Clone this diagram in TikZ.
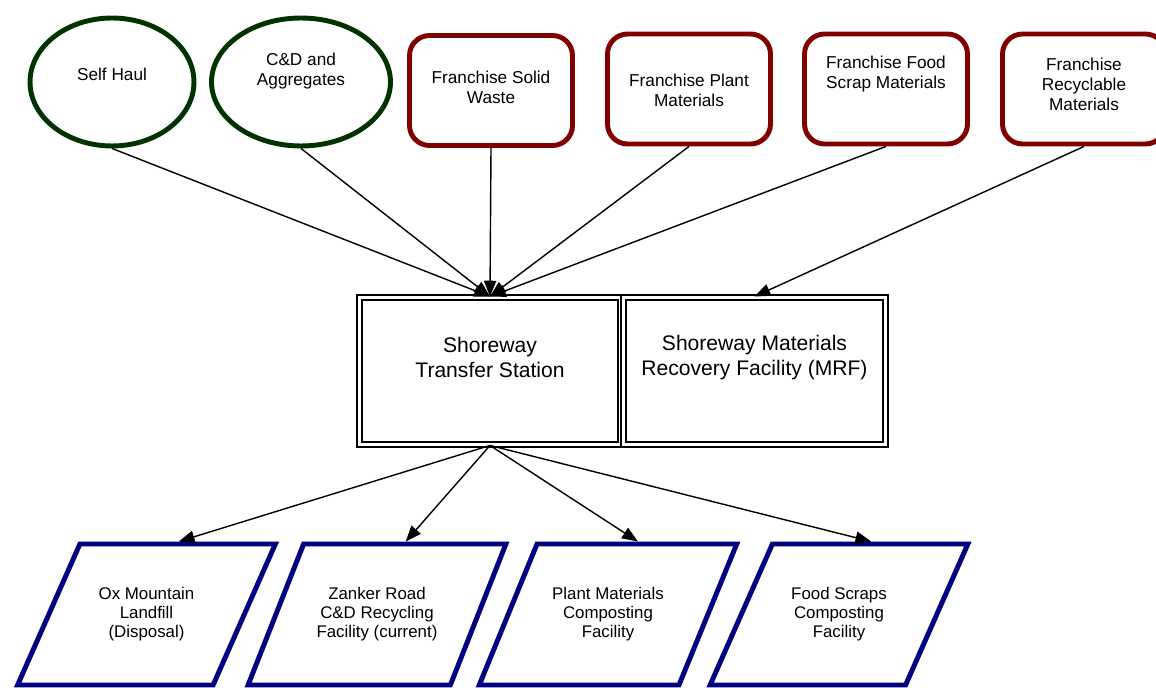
\documentclass[tikz,border=0pt]{standalone}
\usepackage{fontspec}
\setmainfont{Liberation Sans}
\usetikzlibrary{shapes.geometric,arrows.meta}
\definecolor{sourcegreen}{RGB}{0,51,0}
\definecolor{franchisered}{RGB}{128,0,0}
\definecolor{facilityblue}{RGB}{0,0,128}

\begin{document}
\begin{tikzpicture}[x=0.02cm, y=-0.02cm,
    source/.style={ellipse, draw=sourcegreen, line width=2.8pt, minimum height=2.56cm, inner sep=0pt},
    franchise/.style={rectangle, rounded corners=0.4cm, draw=franchisered, line width=2.8pt,
        minimum width=3.26cm, minimum height=2.2cm},
    station/.style={rectangle, draw, double, line width=1.1pt, double distance=1.7pt, minimum height=2.94cm},
    facility/.style={trapezium, trapezium left angle=52.5, trapezium right angle=127.5,
        trapezium stretches=true, draw=facilityblue, line width=2.8pt,
        minimum width=5.16cm, minimum height=2.82cm, align=center, font=\fontsize{9.6}{10.8}\selectfont},
    toptext/.style={align=center, font=\fontsize{9.8}{11.4}\selectfont},
    midtext/.style={align=center, font=\fontsize{12}{14.2}\selectfont},
    flow/.style={line width=0.8pt, -{Triangle[length=9pt,width=7pt]}}
]

    % page frame
    \useasboundingbox (0,0) rectangle (1156,688);

    % sources
    \node[source, minimum width=3.28cm] (selfhaul) at (112,82) {};
    \node[source, minimum width=3.58cm] (cnd) at (301,82) {};
    \node[toptext] (selfhaul-txt) at (112,74) {Self Haul};
    \node[toptext] (cnd-txt) at (301,71) {C\&D and\\Aggregates};

    % franchise streams
    \node[franchise] (solid) at (491,90.5) {};
    \node[franchise] (plant) at (689,89) {};
    \node[franchise] (food) at (886,89) {};
    \node[franchise] (recyc) at (1084,89) {};
    \node[toptext] (solid-txt) at (491,87) {Franchise Solid\\Waste};
    \node[toptext] (plant-txt) at (689,90) {Franchise Plant\\Materials};
    \node[toptext] (food-txt) at (886,74.5) {Franchise Food\\Scrap Materials};
    \node[toptext] (recyc-txt) at (1084,84.5) {Franchise\\Recyclable\\Materials};

    % Shoreway
    \node[station, minimum width=5.22cm] (transfer) at (490,371) {};
    \node[station, minimum width=5.24cm] (mrf) at (754.5,371) {};
    \node[midtext] (transfer-txt) at (490,357.5) {Shoreway\\Transfer Station};
    \node[midtext] (mrf-txt) at (754.5,357.5) {Shoreway Materials\\Recovery Facility (MRF)};

    % destinations
    \node[facility] (landfill) at (146.5,614.5) {Ox Mountain\\Landfill\\(Disposal)};
    \node[facility] (zanker) at (377,614.5) {Zanker Road\\C\&D Recycling\\Facility (current)};
    \node[facility] (plantfac) at (608,614.5) {Plant Materials\\Composting\\Facility};
    \node[facility] (foodfac) at (839,614.5) {Food Scraps\\Composting\\Facility};

    % flows
    \foreach \src in {selfhaul,cnd,solid,plant,food}
        \draw[flow] (\src.south) -- (transfer.north);
    \draw[flow] (recyc.south) -- (mrf.north);
    \foreach \dst in {landfill,zanker,plantfac,foodfac}
        \draw[flow] (transfer.south) -- (\dst.top side);

\end{tikzpicture}
\end{document}
